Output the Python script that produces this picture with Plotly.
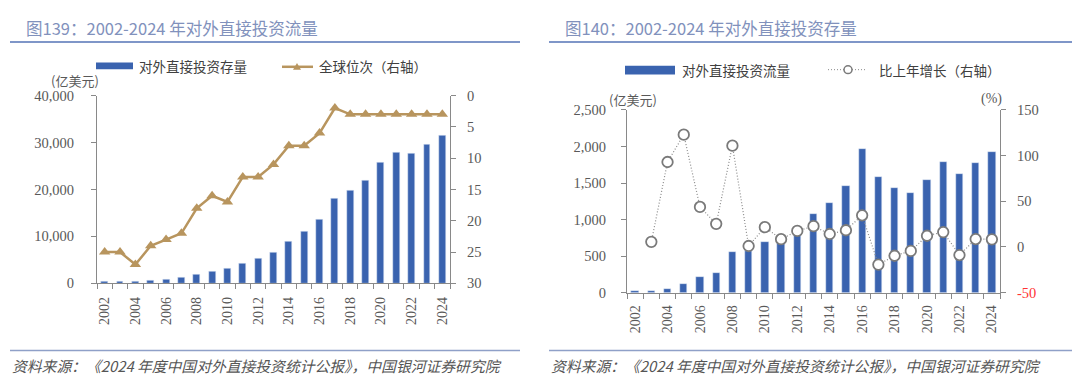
import plotly.graph_objects as go

years = list(range(2002, 2025))
stock = [299, 332, 448, 572, 906, 1179, 1840, 2458, 3172, 4248, 5319, 6605, 8826,
         10979, 13574, 18090, 19823, 21989, 25807, 27852, 27548, 29554, 31399]
rank = [25, 25, 27, 24, 23, 22, 18, 16, 17, 13, 13, 11, 8, 8, 6, 2, 3, 3, 3, 3, 3, 3, 3]
flow = [27, 28.5, 55, 122.6, 211.6, 265, 559, 565, 688, 747, 878, 1078, 1231,
        1457, 1961, 1583, 1430, 1369, 1537, 1788, 1631, 1773, 1923]
growth = [None, 5.6, 93, 122.9, 43.8, 25.3, 110.9, 1.1, 21.7, 8.5, 17.6, 22.8, 14.2,
          18.3, 34.7, -19.3, -9.6, -4.3, 12.3, 16.3, -8.8, 8.7, 8.4]
year_ticks = [y for y in years if y % 2 == 0]

BLUE = "#3A63AF"
TAN = "#B8955E"
AX = "#898989"
TXT = "#595959"
TITLE = "#8191BC"
W, H = 1080, 384
OFF = 8  # page body margin offset
NUM = "Liberation Serif"
CJK = "Noto Sans CJK SC"


def px(x):
    return (x - OFF) / W


def py(y):
    return 1 - (y - OFF) / H


fig = go.Figure()
fig.add_trace(go.Bar(x=years, y=stock, marker_color=BLUE, width=0.45,
                     xaxis="x", yaxis="y", showlegend=False))
fig.add_trace(go.Scatter(x=years, y=rank, mode="lines+markers",
                         line=dict(color=TAN, width=2.5),
                         marker=dict(symbol="triangle-up", size=10, color=TAN),
                         xaxis="x", yaxis="y2", showlegend=False))
fig.add_trace(go.Bar(x=years, y=flow, marker_color=BLUE, width=0.45,
                     xaxis="x3", yaxis="y3", showlegend=False))
fig.add_trace(go.Scatter(x=years, y=growth, mode="lines+markers",
                         line=dict(color="#8a8a8a", width=1.2, dash="1px,2px"),
                         marker=dict(symbol="circle", size=10.5, color="white",
                                     line=dict(color="#7a7a7a", width=1.8)),
                         xaxis="x3", yaxis="y4", showlegend=False))

tickfont = dict(family=NUM, size=14.5, color=TXT)
boundaries = [y - 0.5 for y in years] + [years[-1] + 0.5]


def xaxis(domain, anchor, standoff):
    return dict(domain=domain, anchor=anchor, range=[years[0] - 0.5, years[-1] + 0.5],
                tickvals=year_ticks, ticktext=[str(y) for y in year_ticks],
                tickangle=-90, ticks="", tickfont=dict(family=NUM, size=14, color=TXT),
                showline=True, linecolor=AX, linewidth=1, showgrid=False, zeroline=False,
                ticklabelstandoff=standoff,
                minor=dict(tickvals=boundaries, ticks="outside", ticklen=5,
                           tickcolor=AX, showgrid=False))


def yax(domain, anchor, rng, dtick, side="left", overlaying=None, fmt=",", **kw):
    d = dict(domain=domain, anchor=anchor, range=rng, dtick=dtick, side=side,
             tickformat=fmt, ticks="outside", ticklen=5, tickcolor=AX,
             tickfont=tickfont, showline=True, linecolor=AX, linewidth=1,
             showgrid=False, zeroline=False)
    if overlaying:
        d["overlaying"] = overlaying
    d.update(kw)
    return d


dom_x1 = [px(97), px(450)]
dom_y1 = [py(287), py(91)]
dom_x2 = [px(627), px(1000)]
dom_y2 = [py(296.7), py(106)]

fig.update_layout(
    width=W, height=H, margin=dict(l=0, r=0, t=0, b=0),
    paper_bgcolor="white", plot_bgcolor="white", showlegend=False,
    bargap=0,
    xaxis=xaxis(dom_x1, "y", 7),
    yaxis=yax(dom_y1, "x", [0, 40000], 10000, ticklabelstandoff=14),
    yaxis2=yax(dom_y1, "x", [30, 0], 5, side="right", overlaying="y", fmt="d",
               ticklabelstandoff=8),
    xaxis3=xaxis(dom_x2, "y3", 6),
    yaxis3=yax(dom_y2, "x3", [0, 2500], 500, ticklabelstandoff=12),
    yaxis4=yax(dom_y2, "x3", [-50, 150], 50, side="right", overlaying="y3",
               tickvals=[-50, 0, 50, 100, 150],
               ticktext=["<span style='color:#FF3333'>-50</span>", "0", "50", "100", "150"],
               ticklabelstandoff=8),
)

shapes = []
ann = []

# titles and rules
for x0, x1, tx, title in [(10, 520, 24, "图139：2002-2024 年对外直接投资流量"),
                          (549, 1077, 563, "图140：2002-2024 年对外直接投资存量")]:
    ann.append(dict(x=px(tx), y=py(21), xref="paper", yref="paper", xanchor="left",
                    yanchor="middle", showarrow=False, text=title,
                    font=dict(family=CJK, size=16.5, color=TITLE)))
    shapes.append(dict(type="line", xref="paper", yref="paper", x0=px(x0), x1=px(x1),
                       y0=py(35), y1=py(35), line=dict(color="#7F96C8", width=2)))
    shapes.append(dict(type="line", xref="paper", yref="paper", x0=px(x0), x1=px(x1),
                       y0=py(357), y1=py(357), line=dict(color="#8FA0C8", width=1.5)))
    ann.append(dict(x=px(x0), y=py(373), xref="paper", yref="paper", xanchor="left",
                    yanchor="middle", showarrow=False,
                    text="<i>资料来源：《2024 年度中国对外直接投资统计公报》，中国银河证券研究院</i>",
                    font=dict(family=CJK, size=14.8, color="#555555")))

# left legend
shapes.append(dict(type="rect", xref="paper", yref="paper", x0=px(96), x1=px(133),
                   y0=py(63.5), y1=py(56.5), fillcolor=BLUE, line=dict(width=0)))
ann.append(dict(x=px(137), y=py(60), xref="paper", yref="paper", xanchor="left",
                yanchor="middle", showarrow=False, text="对外直接投资存量",
                font=dict(family=CJK, size=13.5, color="#404040")))
shapes.append(dict(type="line", xref="paper", yref="paper", x0=px(282), x1=px(313),
                   y0=py(61), y1=py(61), line=dict(color=TAN, width=2.5)))
shapes.append(dict(type="path", xref="paper", yref="paper",
                   path=f"M {px(293)},{py(64)} L {px(301)},{py(64)} L {px(297)},{py(57)} Z",
                   fillcolor=TAN, line=dict(width=0)))
ann.append(dict(x=px(317), y=py(60), xref="paper", yref="paper", xanchor="left",
                yanchor="middle", showarrow=False, text="全球位次（右轴）",
                font=dict(family=CJK, size=13.5, color="#404040")))

# right legend
shapes.append(dict(type="rect", xref="paper", yref="paper", x0=px(625), x1=px(675),
                   y0=py(69), y1=py(60), fillcolor=BLUE, line=dict(width=0)))
ann.append(dict(x=px(680), y=py(64), xref="paper", yref="paper", xanchor="left",
                yanchor="middle", showarrow=False, text="对外直接投资流量",
                font=dict(family=CJK, size=13.5, color="#404040")))
shapes.append(dict(type="line", xref="paper", yref="paper", x0=px(828), x1=px(866),
                   y0=py(64), y1=py(64),
                   line=dict(color="#8a8a8a", width=1, dash="1px,2px")))
shapes.append(dict(type="circle", xref="paper", yref="paper", x0=px(844), x1=px(852),
                   y0=py(68), y1=py(60), fillcolor="white",
                   line=dict(color="#7a7a7a", width=1.5)))
ann.append(dict(x=px(877), y=py(64), xref="paper", yref="paper", xanchor="left",
                yanchor="middle", showarrow=False, text="比上年增长（右轴）",
                font=dict(family=CJK, size=13.5, color="#404040")))

# units
ann.append(dict(x=px(49), y=py(75), xref="paper", yref="paper", xanchor="left",
                yanchor="middle", showarrow=False, text="(亿美元)",
                font=dict(family=CJK, size=13, color=TXT)))
ann.append(dict(x=px(607), y=py(95), xref="paper", yref="paper", xanchor="left",
                yanchor="middle", showarrow=False, text="(亿美元)",
                font=dict(family=CJK, size=13, color=TXT)))
ann.append(dict(x=px(1004), y=py(95), xref="paper", yref="paper", xanchor="right",
                yanchor="middle", showarrow=False, text="(%)",
                font=dict(family=NUM, size=14, color=TXT)))

fig.update_layout(shapes=shapes, annotations=ann)
fig.write_html("out.html")
